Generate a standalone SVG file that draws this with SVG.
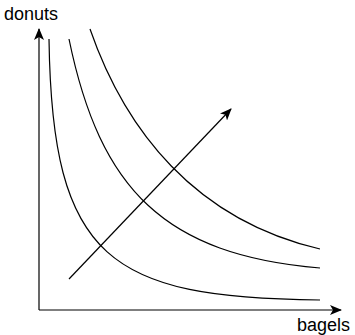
<svg xmlns="http://www.w3.org/2000/svg" width="355" height="335" viewBox="0 0 355 335">
<style>
.ln{fill:none;stroke:#000;stroke-width:1.2}
.lbl{font-family:"Liberation Sans",Arial,sans-serif;font-size:18px;fill:#000}
</style>
<defs>
<marker id="ah" viewBox="0 0 12 10" refX="11" refY="5" markerWidth="12" markerHeight="10" markerUnits="userSpaceOnUse" orient="auto">
<path d="M0,0 L12,5 L0,10 L3,5 Z" fill="#000"/>
</marker>
</defs>
<rect width="355" height="335" fill="#fff"/>
<g id="axes">
<path class="ln" d="M39,310 L39,29" marker-end="url(#ah)"/>
<path class="ln" d="M39,310 L341,310" marker-end="url(#ah)"/>
</g>
<g id="curves">
<path class="ln" d="M49,39 C52,260 110,298 320,300"/>
<path class="ln" d="M69,39 C100,190 165,255 320,268"/>
<path class="ln" d="M90,29 C125,130 195,220 320,249"/>
</g>
<g id="connectors">
<path class="ln" d="M69,279 L231,109" marker-end="url(#ah)"/>
</g>
<g id="label-donuts"><text class="lbl" x="4" y="20">donuts</text></g>
<g id="label-bagels"><text class="lbl" x="297" y="331">bagels</text></g>
</svg>
